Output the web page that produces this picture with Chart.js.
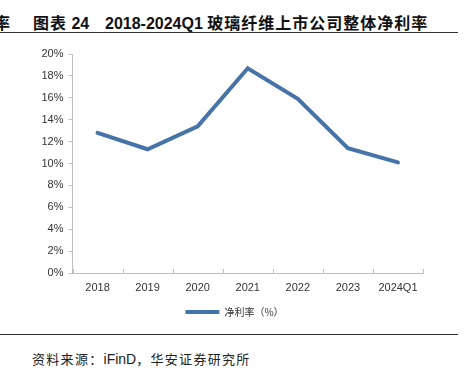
<!DOCTYPE html>
<html>
<head>
<meta charset="utf-8">
<script src="https://cdn.jsdelivr.net/npm/chart.js@4.4.1/dist/chart.umd.min.js"></script>
<style>
  body { margin: 0; width: 464px; height: 370px; background: #fff; position: relative; overflow: hidden; }
  .t { position: absolute; top: 10px; font: bold 16px "Liberation Sans", "Noto Sans CJK SC", sans-serif; color: #111; white-space: nowrap; }
  .cn { font-family: "Noto Sans CJK SC", sans-serif; letter-spacing: 1px; }
  .rule { position: absolute; left: 0; width: 458px; height: 0; border-top: 1.5px solid #333; }
  .src { position: absolute; left: 32px; top: 349px; font: 13px "Noto Sans CJK SC", sans-serif; color: #222; letter-spacing: 1.3px; white-space: nowrap; }
  .src .en { font-family: "Liberation Sans", sans-serif; letter-spacing: 0; font-size: 14px; }
  #wrap { position: absolute; left: 0; top: 40px; width: 464px; height: 290px; }
</style>
</head>
<body>
<div class="t cn" style="left:-6px">率</div>
<div class="t" style="left:33px"><span class="cn">图表</span> 24</div>
<div class="t" style="left:105px">2018-2024Q1 <span class="cn">玻璃纤维上市公司整体净利率</span></div>
<div class="rule" style="top:32px"></div>
<div id="wrap"><canvas id="lineChart"></canvas></div>
<div class="rule" style="top:334px"></div>
<div class="src">资料来源：<span class="en">iFinD</span>，华安证券研究所</div>

<script>
// 数据
const years = ['2018', '2019', '2020', '2021', '2022', '2023', '2024Q1'];
const netMargin = [12.8, 11.3, 13.4, 18.7, 15.9, 11.4, 10.1];
const seriesName = '净利率（%）';
const yMax = 20;
const yStep = 2;

// x轴的刻度线朝上画在坐标轴内侧
const innerTicks = {
    id: 'innerTicks',
    afterDraw(chart) {
        const x = chart.scales.x;
        const ctx = chart.ctx;
        const step = (x.right - x.left) / years.length;
        ctx.save();
        ctx.strokeStyle = '#bfbfbf';
        ctx.lineWidth = 1;
        for (let i = 0; i <= years.length; i++) {
            const px = Math.round(x.left + i * step) + 0.5;
            ctx.beginPath();
            ctx.moveTo(px, x.top);
            ctx.lineTo(px, x.top - 4);
            ctx.stroke();
        }
        ctx.restore();
    }
};

// 图例放在绘图区下方居中（而不是整张画布居中）
const legendShift = {
    id: 'legendShift',
    afterLayout(chart) {
        chart.legend.left += 46;
    }
};

const ctx1 = document.getElementById('lineChart').getContext('2d');
const lineChart = new Chart(ctx1, {
    type: 'line',
    data: {
        labels: years,
        datasets: [
            {
                label: seriesName,
                data: netMargin,
                borderColor: '#4673a8',
                backgroundColor: '#4673a8',
                borderWidth: 4,
                pointRadius: 0,
                tension: 0,
                borderCapStyle: 'round'
            }
        ]
    },
    options: {
        responsive: true,
        maintainAspectRatio: false,
        animation: false,
        layout: {
            padding: { top: 14, right: 41, bottom: 3, left: 0 }
        },
        scales: {
            y: {
                min: 0,
                max: yMax,
                afterFit: function(scale) { scale.width = 72.5; },
                ticks: {
                    stepSize: yStep,
                    padding: 5,
                    color: '#333',
                    font: { family: 'Liberation Sans', size: 11 },
                    callback: function(v) { return v + '%'; }
                },
                grid: { drawOnChartArea: false, tickLength: 4, color: '#bfbfbf' },
                border: { color: '#bfbfbf' }
            },
            x: {
                offset: true,
                afterFit: function(scale) { scale.height = 28; },
                ticks: {
                    padding: 8,
                    color: '#333',
                    maxRotation: 0,
                    font: { family: 'Liberation Sans', size: 11 }
                },
                grid: { display: false, drawTicks: false },
                border: { color: '#bfbfbf' }
            }
        },
        plugins: {
            legend: {
                position: 'bottom',
                labels: {
                    boxWidth: 34,
                    boxHeight: 4,
                    padding: 6,
                    color: '#333',
                    font: { family: 'Noto Sans CJK SC', size: 10 },
                    generateLabels: function(chart) {
                        const items = Chart.defaults.plugins.legend.labels.generateLabels(chart);
                        items.forEach(function(it) { it.lineWidth = 0; });
                        return items;
                    }
                }
            },
            tooltip: { enabled: false }
        }
    },
    plugins: [innerTicks, legendShift]
});
</script>
</body>
</html>
